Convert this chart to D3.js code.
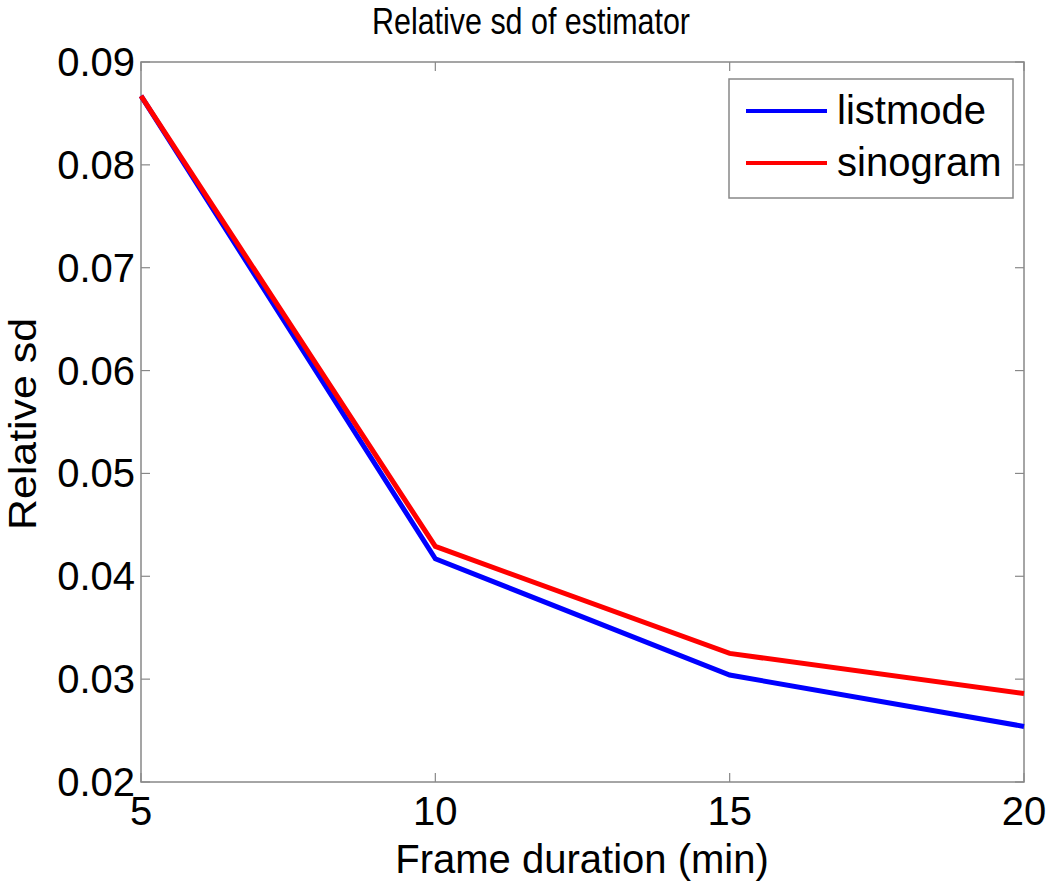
<!DOCTYPE html>
<html>
<head>
<meta charset="utf-8">
<script src="https://cdn.jsdelivr.net/npm/d3@7"></script>
<style>
  html, body { margin: 0; padding: 0; background: #fff; }
  svg { display: block; font-family: "Liberation Sans", Arial, sans-serif; }
</style>
</head>
<body>
<svg id="chart" width="1050" height="885"></svg>
<script>
const durations = [5, 10, 15, 20];
const listmode = [0.0867, 0.0417, 0.0304, 0.0254];
const sinogram = [0.0867, 0.0429, 0.0325, 0.0286];
const xTicks = [5, 10, 15, 20];
const yTicks = [0.02, 0.03, 0.04, 0.05, 0.06, 0.07, 0.08, 0.09];
const seriesNames = ["listmode", "sinogram"];
const seriesColors = ["#0000ff", "#ff0000"];

const svg = d3.select("#chart");
const L = 141, R = 1024, T = 62, B = 782;
const x = d3.scaleLinear().domain([5, 20]).range([L, R]);
const y = d3.scaleLinear().domain([0.02, 0.09]).range([B, T]);
const axisColor = "#888";
const tickLen = 9;

// Axes box
svg.append("rect").attr("x", L).attr("y", T).attr("width", R - L).attr("height", B - T)
  .attr("fill", "none").attr("stroke", axisColor).attr("stroke-width", 1.5);

// ticks on all four sides (inward)
const g = svg.append("g");
xTicks.forEach(v => {
  g.append("line").attr("x1", x(v)).attr("x2", x(v)).attr("y1", B).attr("y2", B - tickLen)
    .attr("stroke", axisColor).attr("stroke-width", 1.2);
  g.append("line").attr("x1", x(v)).attr("x2", x(v)).attr("y1", T).attr("y2", T + tickLen)
    .attr("stroke", axisColor).attr("stroke-width", 1.2);
  g.append("text").attr("x", x(v)).attr("y", 825).attr("text-anchor", "middle")
    .attr("font-size", 40).attr("fill", "#000").text(v);
});
yTicks.forEach(v => {
  g.append("line").attr("x1", L).attr("x2", L + tickLen).attr("y1", y(v)).attr("y2", y(v))
    .attr("stroke", axisColor).attr("stroke-width", 1.2);
  g.append("line").attr("x1", R).attr("x2", R - tickLen).attr("y1", y(v)).attr("y2", y(v))
    .attr("stroke", axisColor).attr("stroke-width", 1.2);
  g.append("text").attr("x", 135).attr("y", y(v) + 14).attr("text-anchor", "end")
    .attr("font-size", 40).attr("fill", "#000").text(d3.format(".2f")(v));
});

// Lines
const line = d3.line().x((d, i) => x(durations[i])).y(d => y(d));
[listmode, sinogram].forEach((s, k) => {
  svg.append("path").datum(s).attr("d", line).attr("fill", "none")
    .attr("stroke", seriesColors[k]).attr("stroke-width", 5).attr("stroke-linejoin", "miter");
});

// Title & labels
svg.append("text").attr("x", 531).attr("y", 34).attr("text-anchor", "middle")
  .attr("font-size", 36).attr("textLength", 318).attr("lengthAdjust", "spacingAndGlyphs")
  .text("Relative sd of estimator");
svg.append("text").attr("x", 582).attr("y", 873).attr("text-anchor", "middle")
  .attr("font-size", 40).text("Frame duration (min)");
svg.append("text").attr("transform", "translate(36,424) rotate(-90)").attr("text-anchor", "middle")
  .attr("font-size", 39).attr("textLength", 212).attr("lengthAdjust", "spacingAndGlyphs")
  .text("Relative sd");

// Legend
const lg = svg.append("g");
lg.append("rect").attr("x", 729).attr("y", 79).attr("width", 284).attr("height", 119)
  .attr("fill", "#fff").attr("stroke", axisColor).attr("stroke-width", 1.5);
seriesNames.forEach((n, k) => {
  const ly = 111 + k * 52;
  lg.append("line").attr("x1", 746).attr("x2", 827).attr("y1", ly).attr("y2", ly)
    .attr("stroke", seriesColors[k]).attr("stroke-width", 4);
  lg.append("text").attr("x", 837).attr("y", ly + 13).attr("font-size", 40).text(n);
});
</script>
</body>
</html>
